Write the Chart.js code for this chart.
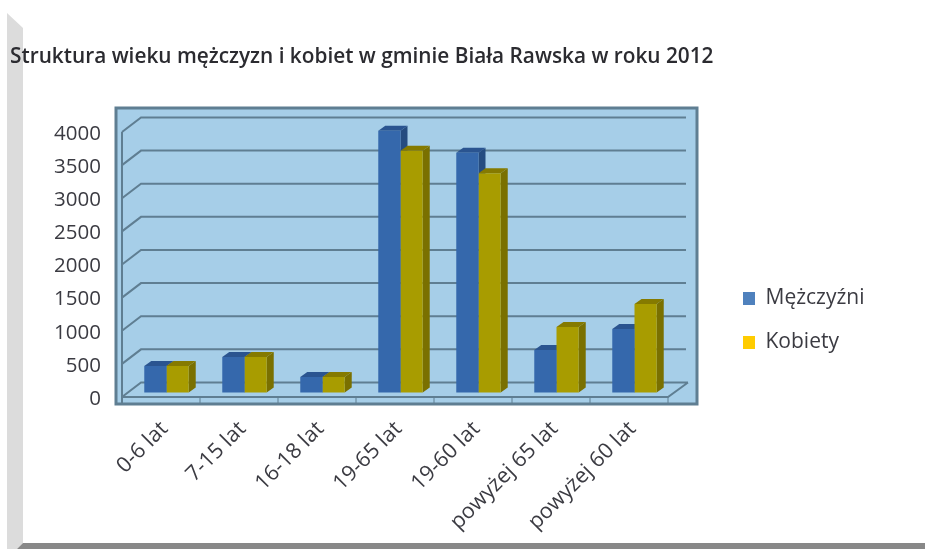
<!DOCTYPE html>
<html lang="pl">
<head>
<meta charset="utf-8">
<title>Struktura wieku</title>
<style>
    html, body { margin: 0; padding: 0; background: #fff; }
    canvas { display: block; }
</style>
</head>
<body>
<canvas id="myChart" width="925" height="549"></canvas>
<script src="https://cdn.jsdelivr.net/npm/chart.js@4/dist/chart.umd.min.js"></script>
<script>
const categories = ['0-6 lat', '7-15 lat', '16-18 lat', '19-65 lat', '19-60 lat', 'powyżej 65 lat', 'powyżej 60 lat'];
const mezczyzni = [400, 535, 235, 3950, 3620, 640, 960];
const kobiety = [400, 535, 235, 3650, 3310, 990, 1335];
const yTicks = [0, 500, 1000, 1500, 2000, 2500, 3000, 3500, 4000];

const titleText = 'Struktura wieku mężczyzn i kobiet w gminie Biała Rawska w roku 2012';
const textColor = '#3b3b42';
const lineColor = '#5f7e92';

// the bars stand a little inside the floor, so the axis sits off them by this much
const shiftX = 5.5;
const shiftY = 4.5;
const yMin = -68;

// Page frame, walls and floor behind the bars
function drawBackground(chart) {
    const ctx = chart.ctx;
    const area = chart.chartArea;
    const y = chart.scales.y;
    const frontLeft = area.left - shiftX;
    const frontRight = area.right - shiftX;
    const floorY = y.getPixelForValue(0) + shiftY;

    ctx.save();
    ctx.fillStyle = '#a6cee8';
    ctx.fillRect(116, 108, 581, 296);
    ctx.strokeStyle = lineColor;
    ctx.lineWidth = 3;
    ctx.strokeRect(116, 108, 581, 296);

    ctx.lineWidth = 2;
    ctx.beginPath();
    yTicks.forEach(v => {
        const py = y.getPixelForValue(v);
        ctx.moveTo(frontLeft, py + shiftY);
        ctx.lineTo(141, py - 10);
        ctx.lineTo(v === 0 ? 688 : 686, py - 10);
    });
    ctx.moveTo(frontLeft, y.getPixelForValue(4000) + shiftY);
    ctx.lineTo(frontLeft, 403);
    ctx.moveTo(frontLeft, floorY);
    ctx.lineTo(frontRight, floorY);
    ctx.lineTo(688, y.getPixelForValue(0) - 10);
    ctx.stroke();

    ctx.lineWidth = 1;
    ctx.beginPath();
    categories.forEach((c, i) => {
        const tx = frontLeft + (i + 1) * (frontRight - frontLeft) / categories.length;
        ctx.moveTo(tx, floorY);
        ctx.lineTo(tx, 403);
    });
    ctx.stroke();
    ctx.restore();
}

function drawDepth(chart) {
    const ctx = chart.ctx;
    const dx = 7;
    const dy = 5;
    const shades = [
        { top: '#2a5490', side: '#254c80' },
        { top: '#857a00', side: '#7a7000' }
    ];

    ctx.save();
    chart.data.datasets.forEach((ds, d) => {
        chart.getDatasetMeta(d).data.forEach(bar => {
            const left = bar.x - bar.width / 2;
            const right = bar.x + bar.width / 2;

            ctx.fillStyle = shades[d].side;
            ctx.beginPath();
            ctx.moveTo(right, bar.y);
            ctx.lineTo(right + dx, bar.y - dy);
            ctx.lineTo(right + dx, bar.base - dy);
            ctx.lineTo(right, bar.base);
            ctx.closePath();
            ctx.fill();

            ctx.fillStyle = shades[d].top;
            ctx.beginPath();
            ctx.moveTo(left, bar.y);
            ctx.lineTo(left + dx, bar.y - dy);
            ctx.lineTo(right + dx, bar.y - dy);
            ctx.lineTo(right, bar.y);
            ctx.closePath();
            ctx.fill();
        });
    });
    ctx.restore();
}

function drawPageFrame(ctx) {
    ctx.save();
    ctx.fillStyle = '#dcdcdc';
    ctx.beginPath();
    ctx.moveTo(7, 13);
    ctx.lineTo(23, 28);
    ctx.lineTo(23, 543);
    ctx.lineTo(17, 549);
    ctx.lineTo(7, 549);
    ctx.closePath();
    ctx.fill();

    ctx.fillStyle = '#888888';
    ctx.beginPath();
    ctx.moveTo(23, 543);
    ctx.lineTo(925, 543);
    ctx.lineTo(925, 549);
    ctx.lineTo(17, 549);
    ctx.closePath();
    ctx.fill();
    ctx.restore();
}

const box3d = {
    id: 'box3d',
    beforeDraw(chart) {
        drawPageFrame(chart.ctx);
        // legend sits well right of the plot, not against it
        const legend = chart.legend;
        legend.left = 743 - legend.options.labels.padding;
        legend.right = 925;
        legend.top = 288 - legend.options.labels.padding;
        legend.bottom = 400;
        // the right padding would squeeze the title otherwise
        chart.titleBlock.right = 925;
    },
    beforeDatasetsDraw(chart) {
        drawBackground(chart);
        drawDepth(chart);
    }
};

new Chart(document.getElementById('myChart').getContext('2d'), {
    type: 'bar',
    data: {
        labels: categories,
        datasets: [
            { label: 'Mężczyźni', data: mezczyzni, backgroundColor: '#3568ac', legendColor: '#4f81bd' },
            { label: 'Kobiety', data: kobiety, backgroundColor: '#a89c00', legendColor: '#ffcc00' }
        ]
    },
    options: {
        responsive: false,
        animation: false,
        categoryPercentage: 0.57,
        barPercentage: 1,
        layout: { padding: { left: 10, right: 925 - 673.5, top: 0, bottom: 0 } },
        plugins: {
            title: {
                display: true,
                text: titleText,
                align: 'start',
                color: '#2b2b30',
                font: { family: '"Open Sans"', size: 20.8, weight: '600' },
                padding: { top: 45, bottom: 57.5 }
            },
            legend: {
                position: 'chartArea',
                align: 'start',
                labels: {
                    boxWidth: 12,
                    boxHeight: 13,
                    padding: 23,
                    color: textColor,
                    font: { family: '"Open Sans"', size: 21 },
                    generateLabels(chart) {
                        return chart.data.datasets.map((ds, i) => ({
                            text: ds.label,
                            fillStyle: ds.legendColor,
                            strokeStyle: ds.legendColor,
                            lineWidth: 0,
                            fontColor: textColor,
                            datasetIndex: i
                        }));
                    }
                }
            },
            tooltip: { enabled: false }
        },
        scales: {
            x: {
                border: { display: false },
                grid: { display: false },
                ticks: {
                    color: textColor,
                    font: { family: '"Open Sans"', size: 21.5 },
                    minRotation: 45,
                    maxRotation: 45,
                    autoSkip: false,
                    padding: 11.5,
                    labelOffset: -2
                },
                afterFit(scale) { scale.height = 152; }
            },
            y: {
                min: yMin,
                max: 4000,
                border: { display: false },
                grid: { display: false },
                ticks: {
                    color: textColor,
                    font: { family: '"Open Sans"', size: 20.5 },
                    padding: 18.5,
                    labelOffset: 6.5,
                    callback: value => String(value)
                },
                afterBuildTicks(scale) { scale.ticks = yTicks.map(v => ({ value: v })); },
                afterFit(scale) { scale.width = 117.5; }
            }
        }
    },
    plugins: [box3d]
});
</script>
</body>
</html>
